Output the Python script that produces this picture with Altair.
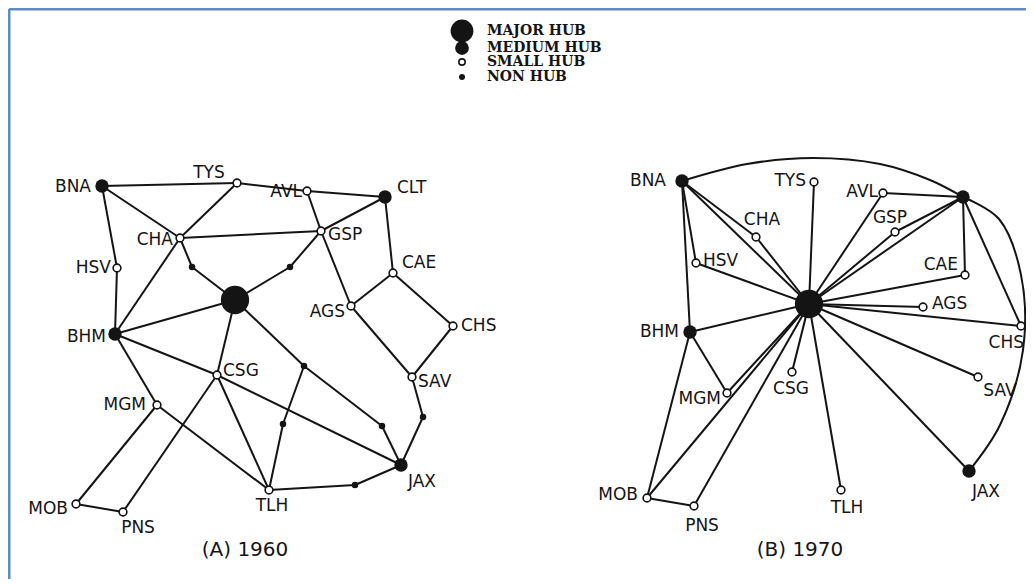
import altair as alt
import pandas as pd

# ---------------- data ----------------
# Panel A (1960)
a_names = ["BNA", "TYS", "AVL", "CLT", "CHA", "GSP", "HSV", "CAE", "ATL", "AGS",
           "CHS", "BHM", "CSG", "SAV", "MGM", "JAX", "TLH", "MOB", "PNS",
           "n1", "n2", "n3", "n4", "n5", "n6", "n7"]
a_x = [102, 237, 307, 385, 180, 321, 117, 393, 235, 351,
       453, 115, 217, 412, 157, 401, 269, 76, 123,
       192, 290, 304, 283, 382, 423, 355]
a_y = [186, 183, 191, 197, 238, 231, 268, 273, 300, 306,
       326, 334, 375, 377, 405, 465, 490, 504, 512,
       267, 267, 366, 424, 426, 417, 485]
a_type = ["medium", "small", "small", "medium", "small", "small", "small", "small", "major", "small",
          "small", "medium", "small", "small", "small", "medium", "small", "small", "small",
          "non", "non", "non", "non", "non", "non", "non"]
a_edges = [("BNA", "TYS"), ("TYS", "AVL"), ("AVL", "CLT"), ("BNA", "CHA"), ("CHA", "n1"),
           ("n1", "ATL"), ("TYS", "CHA"), ("CHA", "BHM"), ("CHA", "GSP"), ("BNA", "HSV"),
           ("HSV", "BHM"), ("AVL", "GSP"), ("GSP", "AGS"), ("CLT", "GSP"), ("GSP", "n2"),
           ("n2", "ATL"), ("CLT", "CAE"), ("CAE", "AGS"), ("CAE", "CHS"), ("CHS", "SAV"),
           ("AGS", "SAV"), ("SAV", "n6"), ("n6", "JAX"), ("BHM", "ATL"), ("ATL", "CSG"),
           ("CSG", "TLH"), ("BHM", "CSG"), ("CSG", "JAX"), ("BHM", "MGM"), ("MGM", "TLH"),
           ("MGM", "MOB"), ("MOB", "PNS"), ("PNS", "CSG"), ("ATL", "n3"), ("n3", "n5"),
           ("n5", "JAX"), ("n3", "n4"), ("n4", "TLH"), ("TLH", "n7"), ("n7", "JAX")]

# Panel B (1970)
b_names = ["BNA", "TYS", "AVL", "CLT", "CHA", "GSP", "HSV", "CAE", "ATL", "AGS",
           "CHS", "BHM", "CSG", "SAV", "MGM", "JAX", "TLH", "MOB", "PNS"]
b_x = [682, 814, 883, 963, 756, 895, 696, 965, 809, 923,
       1021, 690, 792, 978, 727, 969, 841, 647, 694]
b_y = [181, 182, 193, 197, 237, 232, 263, 275, 304, 307,
       326, 332, 372, 377, 393, 471, 490, 498, 506]
b_type = ["medium", "small", "small", "medium", "small", "small", "small", "small", "major", "small",
          "small", "medium", "small", "small", "small", "medium", "small", "small", "small"]
b_edges = [("BNA", "BHM"), ("BNA", "HSV"), ("BNA", "CHA"), ("CHA", "ATL"), ("BNA", "ATL"),
           ("HSV", "ATL"), ("TYS", "ATL"), ("AVL", "ATL"), ("AVL", "CLT"), ("GSP", "ATL"),
           ("GSP", "CLT"), ("CLT", "ATL"), ("CAE", "CLT"), ("CAE", "ATL"), ("AGS", "ATL"),
           ("CHS", "ATL"), ("CHS", "CLT"), ("SAV", "ATL"), ("JAX", "ATL"), ("TLH", "ATL"),
           ("CSG", "ATL"), ("BHM", "ATL"), ("BHM", "MGM"), ("BHM", "MOB"), ("MGM", "ATL"),
           ("MOB", "ATL"), ("PNS", "ATL"), ("MOB", "PNS")]
# curved links of panel B: points along each arc
arc_id = ["BNA-CLT"] * 6 + ["CLT-JAX"] * 6
arc_x = [682, 747, 813, 880, 930, 963, 963, 999, 1021, 1023, 1000, 969]
arc_y = [181, 164, 158, 164, 180, 197, 197, 219, 275, 350, 425, 471]

legend_types = ["major", "medium", "small", "non"]
legend_labels = ["MAJOR HUB", "MEDIUM HUB", "SMALL HUB", "NON HUB"]
captions = ["(A) 1960", "(B) 1970"]

# ---------------- layout (label anchors) ----------------
label_pos = {
    ("A", "BNA"): ("right", 91, 187), ("A", "TYS"): ("center", 209, 173),
    ("A", "AVL"): ("right", 302, 192), ("A", "CLT"): ("left", 397, 188),
    ("A", "CHA"): ("right", 173, 240), ("A", "GSP"): ("left", 328, 235),
    ("A", "HSV"): ("right", 111, 268), ("A", "CAE"): ("left", 402, 263),
    ("A", "AGS"): ("right", 345, 312), ("A", "CHS"): ("left", 461, 326),
    ("A", "BHM"): ("right", 106, 337), ("A", "CSG"): ("left", 223, 371),
    ("A", "SAV"): ("left", 418, 382), ("A", "MGM"): ("right", 146, 405),
    ("A", "JAX"): ("left", 408, 482), ("A", "TLH"): ("center", 272, 506),
    ("A", "MOB"): ("right", 68, 509), ("A", "PNS"): ("center", 138, 528),
    ("B", "BNA"): ("right", 666, 181), ("B", "TYS"): ("right", 806, 181),
    ("B", "AVL"): ("right", 878, 192), ("B", "CHA"): ("center", 762, 220),
    ("B", "GSP"): ("center", 890, 218), ("B", "HSV"): ("left", 703, 261),
    ("B", "CAE"): ("right", 958, 265), ("B", "AGS"): ("left", 932, 304),
    ("B", "CHS"): ("right", 1024, 343), ("B", "BHM"): ("right", 679, 332),
    ("B", "CSG"): ("center", 791, 389), ("B", "SAV"): ("center", 1000, 391),
    ("B", "MGM"): ("right", 721, 399), ("B", "JAX"): ("center", 986, 492),
    ("B", "TLH"): ("center", 847, 508), ("B", "MOB"): ("right", 638, 495),
    ("B", "PNS"): ("center", 702, 526),
}
legend_sym_x, legend_txt_x = 462, 487
legend_row_y = [31, 48, 62, 77]
caption_x, caption_y = [245, 800], 550

# ---------------- build tables ----------------
nodes = pd.concat([
    pd.DataFrame({"panel": "A", "name": a_names, "x": a_x, "y": a_y, "type": a_type}),
    pd.DataFrame({"panel": "B", "name": b_names, "x": b_x, "y": b_y, "type": b_type}),
], ignore_index=True)
pos = {(r.panel, r.name): (r.x, r.y) for r in nodes.itertuples()}

edge_rows = []
for panel, edges in (("A", a_edges), ("B", b_edges)):
    for s, t in edges:
        (x1, y1), (x2, y2) = pos[(panel, s)], pos[(panel, t)]
        edge_rows.append({"x": x1, "y": y1, "x2": x2, "y2": y2})
edges_df = pd.DataFrame(edge_rows)

arcs_df = pd.DataFrame({"arc": arc_id, "x": arc_x, "y": arc_y, "seq": list(range(len(arc_x)))})

lab_rows = []
for (panel, name), (al, lx, ly) in label_pos.items():
    lab_rows.append({"name": name, "x": lx, "y": ly, "align": al})
labels_df = pd.DataFrame(lab_rows)

legend_df = pd.DataFrame({"type": legend_types, "label": legend_labels,
                          "x": legend_sym_x, "tx": legend_txt_x, "y": legend_row_y})
cap_df = pd.DataFrame({"text": captions, "x": caption_x, "y": caption_y})
border_df = pd.DataFrame({"x": [9, 9], "y": [9, 9], "x2": [1026, 9], "y2": [9, 579]})

# ---------------- chart ----------------
XS = alt.Scale(domain=[8, 1026], nice=False, zero=False)
YS = alt.Scale(domain=[8, 579], nice=False, zero=False, reverse=True)
X = alt.X("x:Q", scale=XS, axis=None)
Y = alt.Y("y:Q", scale=YS, axis=None)
INK = "#141414"

border = alt.Chart(border_df).mark_rule(color="#5b8cc8", strokeWidth=3).encode(
    x=X, y=Y, x2="x2:Q", y2="y2:Q")

edge_layer = alt.Chart(edges_df).mark_rule(color=INK, strokeWidth=2).encode(
    x=X, y=Y, x2="x2:Q", y2="y2:Q")

arc_layer = alt.Chart(arcs_df).mark_line(color=INK, strokeWidth=2,
                                         interpolate="catmull-rom").encode(
    x=X, y=Y, detail="arc:N", order="seq:Q")

sizes = {"major": 800, "medium": 180, "non": 42}
node_layers = []
for t, s in sizes.items():
    node_layers.append(
        alt.Chart(nodes).transform_filter(alt.datum.type == t)
        .mark_point(shape="circle", filled=True, color=INK, size=s, opacity=1)
        .encode(x=X, y=Y))
node_layers.append(
    alt.Chart(nodes).transform_filter(alt.datum.type == "small")
    .mark_point(shape="circle", filled=True, fill="white", stroke=INK,
                strokeWidth=1.6, size=60, opacity=1)
    .encode(x=X, y=Y))

label_layers = []
for al in ("left", "right", "center"):
    label_layers.append(
        alt.Chart(labels_df).transform_filter(alt.datum.align == al)
        .mark_text(align=al, baseline="middle", font="DejaVu Sans", fontSize=17,
                   color=INK)
        .encode(x=X, y=Y, text="name:N"))

leg_sizes = {"major": 520, "medium": 190, "non": 36}
legend_layers = []
for t, s in leg_sizes.items():
    legend_layers.append(
        alt.Chart(legend_df).transform_filter(alt.datum.type == t)
        .mark_point(shape="circle", filled=True, color=INK, size=s, opacity=1)
        .encode(x=X, y=Y))
legend_layers.append(
    alt.Chart(legend_df).transform_filter(alt.datum.type == "small")
    .mark_point(shape="circle", filled=True, fill="white", stroke=INK,
                strokeWidth=1.6, size=40, opacity=1)
    .encode(x=X, y=Y))
legend_layers.append(
    alt.Chart(legend_df).mark_text(align="left", baseline="middle",
                                   font="DejaVu Serif", fontWeight="bold",
                                   fontSize=14, color=INK)
    .encode(x=alt.X("tx:Q", scale=XS, axis=None), y=Y, text="label:N"))

cap_layer = alt.Chart(cap_df).mark_text(align="center", baseline="middle",
                                        font="DejaVu Sans", fontSize=20, color=INK).encode(
    x=X, y=Y, text="text:N")

chart = alt.layer(border, edge_layer, arc_layer, *node_layers, *label_layers,
                  *legend_layers, cap_layer).properties(
    width=1018, height=571, padding=0, autosize="none", background="white"
).configure_view(strokeWidth=0)

chart.save("out.html", embed_options={"renderer": "svg", "actions": False})
